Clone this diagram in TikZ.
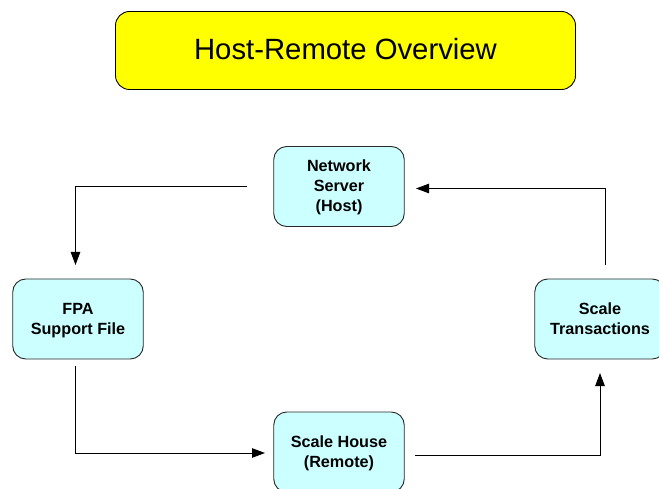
\documentclass[tikz,border=0pt]{standalone}
\usepackage{fontspec}
\setmainfont{Liberation Sans}
\usetikzlibrary{arrows.meta}
\definecolor{boxcyan}{RGB}{204,255,255}
\definecolor{edgegrey}{RGB}{40,40,40}
\definecolor{titleyellow}{RGB}{255,255,0}
\newcommand{\firstline}{\rule{0pt}{14.2pt}}
\tikzset{
  x=1pt,y=-1pt,
  flowbox/.style={draw=edgegrey,line width=0.9pt,fill=boxcyan,rounded corners=13pt,minimum width=130.5pt,minimum height=80pt,inner sep=0pt,align=center,font=\fontsize{16.2}{20}\selectfont\bfseries},
  titlebox/.style={draw=black,line width=0.9pt,fill=titleyellow,rounded corners=14pt,minimum width=460pt,minimum height=78pt,inner sep=0pt,text depth=4pt,font=\fontsize{29.3}{34}\selectfont},
  flow/.style={draw=black,line width=0.9pt,-{Triangle[length=13pt,width=9.5pt]}}
}
\begin{document}
\begin{tikzpicture}
\clip (0,0) rectangle (659,489);
\node[titlebox] (title) at (345.5,50.5) {Host-Remote Overview};
\node[flowbox] (server) at (339,186.5) {\firstline Network\\Server\\(Host)};
\node[flowbox] (fpa) at (78,319) {\firstline FPA\\Support File};
\node[flowbox] (house) at (339,452) {\firstline Scale House\\(Remote)};
\node[flowbox] (trans) at (600,319) {Scale\\Transactions};
\coordinate (a1) at (247,186);
\coordinate (a2) at (75.5,265);
\coordinate (b1) at (75.5,366);
\coordinate (b2) at (265,453);
\coordinate (c1) at (415,455.5);
\coordinate (c2) at (600,373);
\coordinate (d1) at (605.5,265);
\coordinate (d2) at (416,188.5);
\draw[flow] (a1) -| (a2);
\draw[flow] (b1) |- (b2);
\draw[flow] (c1) -| (c2);
\draw[flow] (d1) |- (d2);
\end{tikzpicture}
\end{document}
